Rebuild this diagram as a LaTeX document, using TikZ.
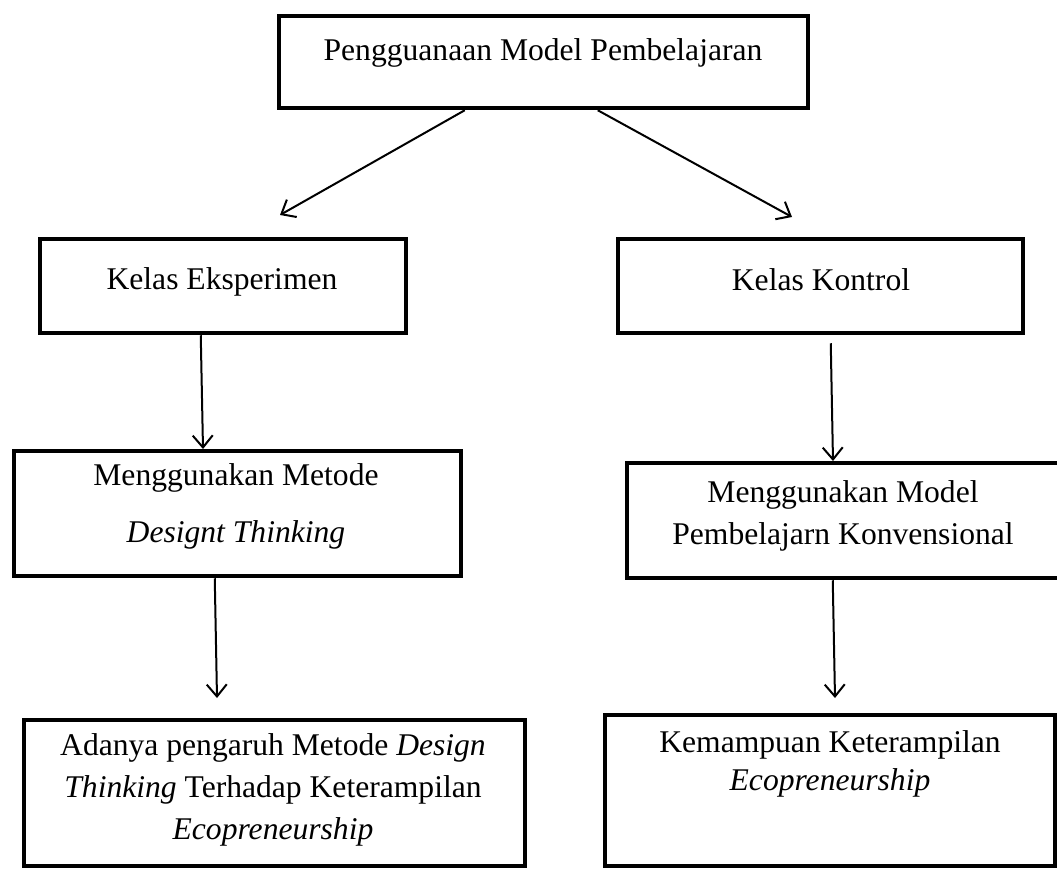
\documentclass[tikz,border=0pt]{standalone}
\usepackage{fontspec}
\setmainfont{Liberation Serif}
\usetikzlibrary{positioning,arrows.meta}

\begin{document}
\begin{tikzpicture}[x=1pt,y=-1pt,
    kotak/.style={draw, line width=4.5pt, rectangle, inner sep=0pt},
    teks/.style={font=\fontsize{31.6}{42}\selectfont, align=center, inner sep=0pt},
    panah/.style={line width=2pt, -{Straight Barb[length=12pt,width=20pt,line width=2pt]}}]
	% Batas gambar
	\useasboundingbox (0,0) rectangle (1057,870);
	\clip (0,0) rectangle (1057,870);
	
	% Kotak-kotak
	\node[kotak, minimum width=529pt, minimum height=92pt] (atas) at (543.5,62) {};
	\node[kotak, minimum width=366pt, minimum height=94pt] (eksperimen) at (223,286) {};
	\node[kotak, minimum width=405pt, minimum height=94pt] (kontrol) at (820.5,286) {};
	\node[kotak, minimum width=447pt, minimum height=125pt] (metode) at (237.5,513.5) {};
	\node[kotak, minimum width=463pt, minimum height=115pt] (konvensional) at (858.5,520.5) {};
	\node[kotak, minimum width=501pt, minimum height=146pt] (pengaruh) at (274.5,793) {};
	\node[kotak, minimum width=450pt, minimum height=151pt] (kemampuan) at (830,790.5) {};
	
	% Isi teks
	\node[teks] (tAtas) at (543,53) {Pengguanaan Model Pembelajaran};
	\node[teks] (tEksperimen) at (222,282) {Kelas Eksperimen};
	\node[teks] (tKontrol) at (821,280) {Kelas Kontrol};
	\node[teks] (tMetode) at (236,506) {Menggunakan Metode\\[15pt] \textit{Designt Thinking}};
	\node[teks] (tKonvensional) at (843,516) {Menggunakan Model\\ Pembelajarn Konvensional};
	\node[teks] (tPengaruh) at (273,790) {Adanya pengaruh Metode \textit{Design}\\ \textit{Thinking} Terhadap Keterampilan\\ \textit{Ecopreneurship}};
	\node[teks] (tKemampuan) at (830,764) {Kemampuan Keterampilan\\[-4pt] \textit{Ecopreneurship}};
	
	% Ujung panah
	\coordinate (uEksperimen) at (280,215);
	\coordinate (uKontrol) at (792,217);
	\coordinate (uMetode) at (203,449);
	\coordinate (uKonvensional) at (833,461);
	\coordinate (uPengaruh) at (217,698);
	\coordinate (uKemampuan) at (835,698);
	
	% Panah
	\draw[panah] ([xshift=188pt]atas.south west) -- (uEksperimen);
	\draw[panah] ([xshift=321pt]atas.south west) -- (uKontrol);
	\draw[panah] ([xshift=163pt]eksperimen.south west) -- (uMetode);
	\draw[panah] ([xshift=215pt,yshift=-8pt]kontrol.south west) -- (uKonvensional);
	\draw[panah] ([xshift=203pt]metode.south west) -- (uPengaruh);
	\draw[panah] ([xshift=208pt]konvensional.south west) -- (uKemampuan);
\end{tikzpicture}
\end{document}
